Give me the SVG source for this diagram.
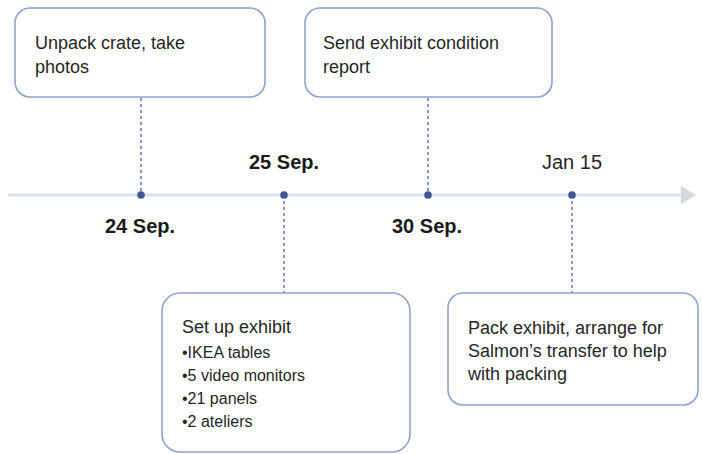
<svg xmlns="http://www.w3.org/2000/svg" width="702" height="454" viewBox="0 0 702 454">
  <style>
    .box { fill: #ffffff; stroke: #8fa3cc; stroke-width: 1.6; }
    .t { font-family: "Liberation Sans", Arial, sans-serif; font-size: 18px; fill: #262626; }
    .b { font-family: "Liberation Sans", Arial, sans-serif; font-size: 16px; fill: #262626; }
    .dbold { font-family: "Liberation Sans", Arial, sans-serif; font-size: 20px; font-weight: bold; fill: #1a1a1a; }
    .dreg { font-family: "Liberation Sans", Arial, sans-serif; font-size: 20px; fill: #262626; }
    .dash { stroke: #5b78c8; stroke-width: 1.5; stroke-dasharray: 3 3; fill: none; }
    .dot { fill: #3e5596; }
  </style>
  <rect width="702" height="454" fill="#ffffff"/>

  <g id="timeline">
    <line x1="8" y1="195" x2="684" y2="195" stroke="#dde2ea" stroke-width="3"/>
    <polygon points="681,186 696,195 681,204" fill="#d3d8e2"/>
  </g>

  <g id="connectors">
    <line class="dash" x1="141" y1="98" x2="141" y2="195"/>
    <line class="dash" x1="428" y1="98" x2="428" y2="195"/>
    <line class="dash" x1="284" y1="195" x2="284" y2="293"/>
    <line class="dash" x1="572" y1="195" x2="572" y2="293"/>
  </g>

  <g id="dot-24sep">
    <circle class="dot" cx="141" cy="195" r="3.8"/>
    <text class="dbold" x="105" y="233">24 Sep.</text>
  </g>
  <g id="dot-25sep">
    <circle class="dot" cx="284" cy="195" r="3.8"/>
    <text class="dbold" x="249" y="169">25 Sep.</text>
  </g>
  <g id="dot-30sep">
    <circle class="dot" cx="428" cy="195" r="3.8"/>
    <text class="dbold" x="392" y="233">30 Sep.</text>
  </g>
  <g id="dot-jan15">
    <circle class="dot" cx="572" cy="195" r="3.8"/>
    <text class="dreg" x="542" y="169">Jan 15</text>
  </g>

  <g id="box-unpack">
    <rect class="box" x="15" y="8" width="250" height="89" rx="15"/>
    <text class="t" x="35" y="49">Unpack crate, take</text>
    <text class="t" x="35" y="73">photos</text>
  </g>

  <g id="box-report">
    <rect class="box" x="305" y="8" width="247" height="89" rx="15"/>
    <text class="t" x="323" y="49">Send exhibit condition</text>
    <text class="t" x="323" y="73">report</text>
  </g>

  <g id="box-setup">
    <rect class="box" x="162" y="293" width="248" height="159" rx="18"/>
    <text class="t" x="182" y="333">Set up exhibit</text>
    <text class="b" x="182" y="358">•IKEA tables</text>
    <text class="b" x="182" y="381">•5 video monitors</text>
    <text class="b" x="182" y="404">•21 panels</text>
    <text class="b" x="182" y="427">•2 ateliers</text>
  </g>

  <g id="box-pack">
    <rect class="box" x="448" y="293" width="250" height="112" rx="15"/>
    <text class="t" x="468" y="334">Pack exhibit, arrange for</text>
    <text class="t" x="468" y="357">Salmon’s transfer to help</text>
    <text class="t" x="468" y="380">with packing</text>
  </g>
</svg>
